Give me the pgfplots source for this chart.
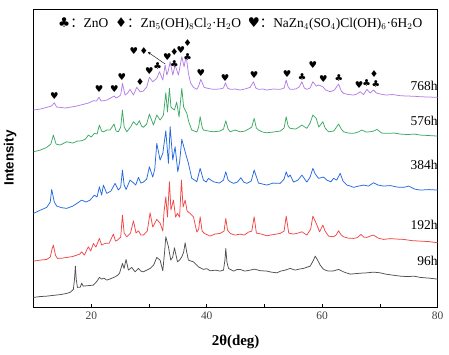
\documentclass[border=0pt]{standalone}
\usepackage{pgfplots}
\pgfplotsset{compat=1.18}
\usepackage{fontspec}
\setmainfont{Liberation Serif}
\newfontfamily\symfont{DejaVu Sans}
\newfontfamily\cjk{Noto Sans CJK SC}
\newfontfamily\arialfont{Liberation Sans}
\usetikzlibrary{arrows.meta}
\definecolor{cgray}{RGB}{80,80,80}
\definecolor{cred}{RGB}{240,70,70}
\definecolor{cblue}{RGB}{35,105,225}
\definecolor{cgreen}{RGB}{60,170,100}
\definecolor{cpurple}{RGB}{180,125,230}
\newcommand{\sC}{{\symfont\symbol{"2663}}}
\newcommand{\sD}{{\symfont\symbol{"2666}}}
\newcommand{\sH}{{\symfont\symbol{"2665}}}
\tikzset{sym/.style={font=\fontsize{9.5}{9.5}\selectfont, inner sep=0pt},
  slab/.style={anchor=east, font=\fontsize{13.5}{13.5}\selectfont, inner sep=0pt}}
\begin{document}
\begin{tikzpicture}
\begin{axis}[
  width=404bp, height=298bp, scale only axis,
  xmin=10, xmax=80, ymin=0, ymax=298,
  ytick=\empty,
  xtick={10,20,...,80}, xticklabels={,20,,40,,60,,80},
  xtick pos=lower, tick align=inside, major tick length=3bp,
  axis line style={line width=0.8bp},
  tick style={line width=0.6bp, black},
  xticklabel style={font=\fontsize{11.5}{11.5}\selectfont, text=black!75, yshift=-1bp},
  xlabel={\textbf{2θ(deg)}},
  xlabel style={font=\fontsize{15}{15}\selectfont, at={(axis description cs:0.5,-0.117)}, anchor=center},
  ylabel={\arialfont\bfseries Intensity},
  ylabel style={font=\fontsize{13.5}{13.5}\selectfont, at={(axis description cs:-0.058,0.5)}, anchor=center},
  clip=false,
  every axis plot/.append style={line width=0.75bp, no marks, line join=round},
]
\coordinate (SW) at (rel axis cs:0,0);
\coordinate (NE) at (rel axis cs:1,1);
% 96h
\addplot[cgray] coordinates {
(10,9.7)(11.0,10.5)(12.28,11)(13.5,11.8)(14.6,12.5)(15.75,13.7)(16.4,15)(16.90,17.7)(17.1,28)(17.25,41)(17.4,28)(17.60,19.7)
(18.1,20)(18.35,24)(18.6,21)(19.5,21.5)(20.37,22)(21.0,26)(21.41,29.7)(21.8,28)(22.2,29)(22.68,27)(23.4,28.5)(24.12,30.3)
(24.6,32)(24.9,34)(25.40,43.7)(25.68,38.7)(26.03,47.7)(26.43,37)(27.01,39.7)(27.59,35.3)(28.17,38.7)(28.6,36)(29.03,35.3)(29.6,37)
(30.19,38.7)(30.8,42)(31.35,49.7)(31.92,47)(32.39,36.3)(32.7,55)(32.91,70.3)(33.37,60.3)(33.77,47)(34.1,50)(34.41,59.3)(34.93,45.3)
(35.3,47)(35.68,50.3)(36.0,55)(36.26,64.3)(36.5,56)(36.83,47)(37.3,46)(37.70,45.3)(38.1,43)(38.57,40.3)(39.0,39)(39.43,37.7)
(40.0,38.5)(40.59,36.3)(41.5,37)(42.3,36)(42.90,37)(43.15,47)(43.30,58.7)(43.5,45)(43.77,38.7)(44.64,36)(45.2,37.5)(45.79,37.7)
(46.6,36)(47.52,37)(48.3,38)(49.2,36.5)(50.41,36)(51.2,35)(52.14,34.3)(52.8,36)(53.6,37)(54.45,38.7)(55.3,37)(56.0,38)(56.76,38.7)
(57.4,40)(57.92,41)(58.4,46)(58.79,51)(59.2,47)(59.65,42)(60.2,38)(60.81,36.3)(61.8,36)(62.83,37.7)(63.8,35)(64.85,33)(65.8,33.5)
(66.8,34)(67.74,34.3)(68.9,35)(70.05,34.3)(71.0,33)(72.2,32)(73.52,31)(74.8,30.5)(75.9,31)(76.99,29.7)(78.5,29)(80,28)};
% 192h
\addplot[cred] coordinates {
(10,46)(11.2,47)(12.28,47.7)(12.9,50)(13.2,58)(13.44,62)(13.8,52)(14.13,48.7)(15.0,49)(15.75,49.7)(16.7,50.5)(17.5,52)(18.0,53)
(18.35,55.3)(18.8,52)(19.50,60.3)(19.9,56)(20.37,63.7)(20.8,60)(21.41,68.7)(21.8,62)(22.39,63.7)(23.1,64)(23.84,73)(24.2,66)(24.53,67)
(25.1,70)(25.40,92)(25.7,74)(26.15,70.3)(26.8,74)(27.30,86.3)(27.76,74)(28.17,76.3)(28.6,72)(29.03,72)(29.7,76)(30.19,94.3)(30.65,80)
(31.35,87.7)(31.92,84)(32.39,76)(32.6,95)(32.91,110.3)(33.2,90)(33.54,125.3)(33.8,97)(34.23,107)(34.6,90)(34.93,93.7)(35.3,90)
(35.62,127)(35.9,100)(36.26,107)(36.6,96)(37.12,93.7)(37.70,90.3)(38.28,75)(38.6,78)(38.86,90.3)(39.2,76)(39.6,73.7)(40.59,71)
(41.4,73)(42.32,73.7)(43.0,76)(43.30,88.7)(43.6,77)(44.06,73.7)(44.9,72)(45.79,73)(46.5,72)(47.23,75)(47.8,76)(48.21,90.3)(48.6,74)
(49.5,73)(50.41,71.3)(51.5,72.5)(52.72,73.7)(53.4,76)(53.76,91)(54.2,74)(55.0,73)(55.8,74)(56.48,75.3)(57.34,72)(58.0,78)(58.38,91)
(58.96,83.7)(59.54,75.3)(60.11,82)(60.5,76)(61.10,71)(61.96,70.3)(62.4,72)(62.83,76.3)(63.3,72)(63.70,70.3)(64.5,69)(65.43,68.7)
(66.1,69.5)(66.70,72.7)(67.2,70)(67.74,69.7)(68.3,71)(68.89,72)(69.7,69)(70.63,67.7)(71.8,68.5)(73.0,68)(74.09,67.7)(75.5,66.5)
(76.99,66)(78.5,65.5)(80,64.3)};
% 384h
\addplot[cblue] coordinates {
(10,93.7)(11.2,97)(12.28,99.7)(12.9,105)(13.15,117.7)(13.6,105)(14.02,101)(14.8,99.5)(15.75,98.7)(16.8,101)(17.6,104)(18.35,107)
(19.1,105)(19.79,107)(20.54,112)(21.0,110)(21.41,120.3)(21.8,112)(22.10,122)(22.68,113.7)(23.4,116)(24.12,123.7)(24.70,117)(25.1,120)
(25.40,137)(25.7,122)(26.03,117.7)(26.72,127)(27.30,124.3)(27.7,122)(28.17,129.7)(28.6,124)(29.03,125)(29.6,128)(30.07,140.3)(30.65,130)
(31.0,138)(31.35,163.7)(31.92,147)(32.39,153.7)(32.91,176.3)(33.37,143.7)(33.66,180.3)(34.12,147)(34.52,160.3)(34.99,135.3)(35.3,145)
(35.68,167.7)(36.26,155.3)(36.83,143.7)(37.41,128.7)(37.9,127)(38.28,125.3)(38.86,138.7)(39.43,127)(39.9,125)(40.30,128.7)(41.17,125.3)
(42.2,124)(42.9,127)(43.30,135.3)(43.7,127)(44.06,125.3)(44.64,123.7)(45.3,125)(45.91,129.3)(46.4,125)(46.94,123.7)(47.7,126)
(48.21,137)(48.97,124)(49.7,123)(50.41,122)(51.5,124)(52.72,123.7)(53.4,128)(53.76,135.3)(54.1,130)(54.45,132)(55.03,125)(55.8,127)
(56.48,132)(57.34,125)(57.9,130)(58.38,138.7)(58.8,133)(59.36,128.7)(60.23,130)(60.8,127)(61.50,125.3)(61.96,128.7)(62.5,127)
(63.12,133.7)(63.6,126)(64.28,122)(64.9,121)(65.43,119.7)(66.3,121)(67.16,122)(68.0,121)(68.89,124.3)(69.7,122)(70.63,121)(71.8,121.5)
(73.0,120)(74.09,119.7)(75.0,121)(76.0,118)(76.99,117)(78.5,117.5)(80,117)};
% 576h
\addplot[cgreen] coordinates {
(10,155.3)(11.2,157)(12.28,159.7)(13.0,163)(13.44,172)(13.9,163)(14.59,162)(15.75,165.3)(16.8,164)(17.6,166)(18.35,166.3)(19.0,168)
(19.50,172)(20.0,170)(20.54,173.7)(21.0,173)(21.41,182)(21.8,176)(22.10,175.3)(22.7,177)(23.26,177)(23.95,183)(24.3,176)(24.70,175.3)
(25.1,180)(25.40,197)(25.7,180)(26.15,175.3)(26.8,180)(27.30,185.3)(27.88,182)(28.34,186.3)(28.7,181)(29.03,179.7)(29.6,183)(30.07,193)
(30.77,182)(31.35,192)(31.92,187)(32.50,192)(32.91,214.3)(33.2,195)(33.54,218.7)(33.8,200)(34.41,197)(34.8,205)(35.2,190)(35.68,218.7)
(36.0,200)(36.55,193.7)(36.9,185)(37.41,177)(38.28,175)(38.6,180)(38.86,190.3)(39.2,180)(39.43,177)(40.3,176)(41.17,175.3)(42.3,176)
(42.9,178)(43.30,186.3)(43.7,178)(44.06,175.3)(44.9,177)(45.79,175.3)(46.6,176)(47.23,178)(47.8,180)(48.21,188.7)(48.6,179)
(48.97,177)(49.7,175)(50.41,174.3)(51.5,175)(52.72,176)(53.4,179)(53.76,190.3)(54.1,181)(54.45,178.7)(55.4,178)(56.0,180)(56.48,182)
(57.34,178.7)(57.9,184)(58.38,192)(58.96,188.7)(59.4,180)(60.11,185.3)(60.5,179)(61.10,175.3)(62.0,176)(62.83,183)(63.3,178)(63.70,175.3)
(64.5,174)(65.43,173.7)(66.2,175)(66.88,177)(67.6,175)(68.32,175.3)(68.9,176)(69.47,177.7)(70.3,174)(71.20,173.7)(72.4,174)(73.52,173)
(74.8,172.5)(75.9,173)(76.99,172)(78.5,171.5)(80,171)};
% 768h
\addplot[cpurple] coordinates {
(10,197)(11.2,198)(12.28,199.7)(13.1,201)(13.61,204.3)(14.0,200)(14.59,199.7)(15.5,199)(16.5,200)(17.48,201)(18.5,202.5)(19.5,204)
(20.37,206.3)(20.9,206)(21.35,209.7)(21.7,206)(22.10,206.3)(22.7,207)(23.26,208.7)(23.95,211)(24.3,209)(24.70,210.3)(25.1,212)
(25.40,223.7)(25.86,212)(26.3,214)(26.72,217.7)(27.30,212)(27.88,219.7)(28.46,215.3)(29.0,216)(29.6,220)(30.07,229.7)(30.65,225.3)
(31.35,228.7)(31.81,235.3)(32.39,227)(32.79,242)(33.1,232)(33.37,237)(33.66,245.3)(34.12,232)(34.52,242)(35.10,232)(35.68,250.3)
(36.08,240.3)(36.43,251)(36.83,233.7)(37.2,224)(37.70,219.7)(38.28,217.7)(38.6,221)(38.97,227.7)(39.55,219.7)(40.3,218.5)(41.17,217.7)
(42.2,218)(42.9,219)(43.25,224.3)(43.6,219)(44.06,217.7)(44.9,218)(45.79,217)(46.6,218)(47.52,219.7)(48.10,225.3)(48.5,219)(48.97,217.7)
(49.7,218)(50.41,217)(51.5,218)(52.72,217.7)(53.4,219)(53.76,227)(54.1,220)(54.45,217.7)(55.4,218)(56.0,220)(56.48,225.3)(56.9,219)
(57.34,217.7)(57.9,219)(58.38,225.3)(58.96,221)(59.4,222)(60.11,220.3)(60.6,217)(61.39,215.3)(62.1,217)(62.83,223)(63.3,216)(63.70,213.7)
(64.5,212.5)(65.43,212)(66.0,213)(66.59,215.3)(67.16,212.5)(67.74,217.7)(68.3,214)(68.89,217)(69.4,214)(70.05,213)(71.0,212)(72.2,212.5)
(73.52,211.3)(74.8,211)(75.9,210.8)(76.99,210.3)(78.5,210)(80,209.7)};
% sample labels
\node[slab] at (axis cs:80,221) {768h};
\node[slab] at (axis cs:80,186.3) {576h};
\node[slab] at (axis cs:80,142) {384h};
\node[slab] at (axis cs:80,82) {192h};
\node[slab] at (axis cs:80,46) {96h};
% phase legend
\node[font=\fontsize{13.5}{13.5}\selectfont, inner sep=0pt] at (axis cs:45.8,283)
 {\sC{\cjk ：}ZnO\ \ \sD{\cjk ：}Zn$_5$(OH)$_8$Cl$_2$·H$_2$O\ \ \sH{\cjk ：}NaZn$_4$(SO$_4$)Cl(OH)$_6$·6H$_2$O};
% peak symbols
\node[sym] at (axis cs:13.6,211) {\sH};
\node[sym] at (axis cs:21.35,217.7) {\sH};
\node[sym] at (axis cs:24.0,217.7) {\sH};
\node[sym] at (axis cs:25.3,230.3) {\sH};
\node[sym] at (axis cs:28.46,225.3) {\sD};
\node[sym] at (axis cs:30.07,236) {\sH};
\node[sym] at (axis cs:31.5,241) {\sC};
\node[sym] at (axis cs:27.4,256.3) {\sH};
\node[sym] at (axis cs:29.1,256.3) {\sD};
\node[sym] at (axis cs:33.2,249.7) {\sH};
\node[sym] at (axis cs:34.4,255) {\sD};
\node[sym] at (axis cs:34.4,242.5) {\sC};
\node[sym] at (axis cs:35.5,257) {\sH};
\node[sym] at (axis cs:36.7,264) {\sD};
\node[sym] at (axis cs:36.7,250.3) {\sC};
\node[sym] at (axis cs:39.0,233.7) {\sH};
\node[sym] at (axis cs:43.2,229.3) {\sH};
\node[sym] at (axis cs:48.2,232) {\sH};
\node[sym] at (axis cs:53.9,233) {\sH};
\node[sym] at (axis cs:56.5,229.7) {\sC};
\node[sym] at (axis cs:58.4,242) {\sH};
\node[sym] at (axis cs:60.2,227.7) {\sH};
\node[sym] at (axis cs:62.9,229.3) {\sC};
\node[sym] at (axis cs:66.4,222) {\sH};
\node[sym] at (axis cs:67.7,224.3) {\sC};
\node[sym] at (axis cs:69.0,233) {\sD};
\node[sym] at (axis cs:69.3,223) {\sC};
\draw[-{Stealth[length=3bp,width=2.5bp]}, line width=0.4bp] (axis cs:32.8,243) -- (axis cs:29.8,255);
\end{axis}
\pgfresetboundingbox
\path[use as bounding box] ([xshift=-33.5bp,yshift=-47bp]SW) rectangle ([xshift=11.3bp,yshift=9bp]NE);
\end{tikzpicture}
\end{document}
